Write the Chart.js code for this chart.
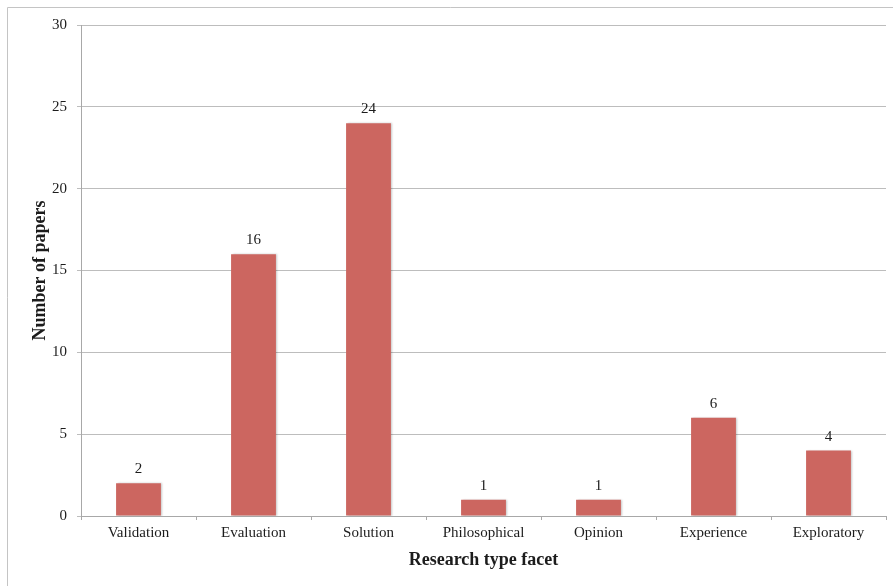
<!DOCTYPE html>
<html>
<head>
<meta charset="utf-8">
<script src="https://cdn.jsdelivr.net/npm/chart.js@4/dist/chart.umd.min.js"></script>
<style>
  html, body { margin: 0; padding: 0; background: #fff; }
  #wrap { width: 893px; height: 586px; position: relative; }
</style>
</head>
<body>
<div id="wrap"><canvas id="c"></canvas></div>
<script>
// Paper counts per research type facet
const categories = ['Validation', 'Evaluation', 'Solution', 'Philosophical', 'Opinion', 'Experience', 'Exploratory'];
const paperCounts = [2, 16, 24, 1, 1, 6, 4];
const yTicks = [0, 5, 10, 15, 20, 25, 30];

const serif = '"Liberation Serif", "Times New Roman", serif';
const textColor = '#1c1c1c';

// Thin frame around the whole figure
const framePlugin = {
  id: 'frame',
  beforeDraw(chart) {
    const ctx = chart.ctx;
    ctx.save();
    ctx.strokeStyle = '#c4c4c4';
    ctx.lineWidth = 1;
    ctx.beginPath();
    ctx.moveTo(7.5, chart.height + 2);
    ctx.lineTo(7.5, 7.5);
    ctx.lineTo(chart.width + 2, 7.5);
    ctx.stroke();
    ctx.restore();
  }
};

// Soft shadow under the bars
const shadowPlugin = {
  id: 'barShadow',
  beforeDatasetDraw(chart) {
    const ctx = chart.ctx;
    ctx.save();
    ctx.shadowColor = 'rgba(0,0,0,0.22)';
    ctx.shadowBlur = 2;
    ctx.shadowOffsetX = 1.5;
    ctx.shadowOffsetY = 0;
  },
  afterDatasetDraw(chart) {
    chart.ctx.restore();
  }
};

// Value labels above each bar
const valueLabelPlugin = {
  id: 'valueLabels',
  afterDatasetsDraw(chart) {
    const ctx = chart.ctx;
    const meta = chart.getDatasetMeta(0);
    ctx.save();
    ctx.font = '15px ' + serif;
    ctx.fillStyle = textColor;
    ctx.textAlign = 'center';
    ctx.textBaseline = 'alphabetic';
    meta.data.forEach((bar, i) => {
      ctx.fillText(String(paperCounts[i]), bar.x, bar.y - 10);
    });
    ctx.restore();
  }
};

new Chart(document.getElementById('c'), {
  type: 'bar',
  data: {
    labels: categories,
    datasets: [{
      data: paperCounts,
      backgroundColor: '#cc6660',
      borderWidth: 0,
      categoryPercentage: 1.0,
      barPercentage: 0.39
    }]
  },
  options: {
    responsive: true,
    maintainAspectRatio: false,
    animation: false,
    devicePixelRatio: 1,
    layout: { padding: { left: 0, top: 25, right: 7, bottom: 0 } },
    plugins: {
      legend: { display: false },
      tooltip: { enabled: false }
    },
    scales: {
      x: {
        grid: {
          offset: true,
          drawOnChartArea: false,
          drawTicks: true,
          tickLength: 4,
          color: '#a8a8a8'
        },
        border: { color: '#a8a8a8', width: 1 },
        ticks: {
          color: textColor,
          font: { family: serif, size: 15 },
          padding: 4,
          maxRotation: 0
        },
        title: {
          display: true,
          text: 'Research type facet',
          color: textColor,
          font: { family: serif, size: 18, weight: 'bold' },
          padding: { top: 0, bottom: 15 }
        },
        afterFit(scale) { scale.height = 70; }
      },
      y: {
        min: 0,
        max: 30,
        afterBuildTicks(scale) {
          scale.ticks = yTicks.map(v => ({ value: v }));
        },
        grid: {
          color: '#bdbdbd',
          drawTicks: true,
          tickLength: 4
        },
        border: { color: '#a8a8a8', width: 1 },
        ticks: {
          color: textColor,
          font: { family: serif, size: 15 },
          padding: 10
        },
        title: {
          display: true,
          text: 'Number of papers',
          color: textColor,
          font: { family: serif, size: 18, weight: 'bold' },
          padding: { top: 30, bottom: 0 }
        },
        afterFit(scale) { scale.width = 81; }
      }
    }
  },
  plugins: [framePlugin, shadowPlugin, valueLabelPlugin]
});
</script>
</body>
</html>
